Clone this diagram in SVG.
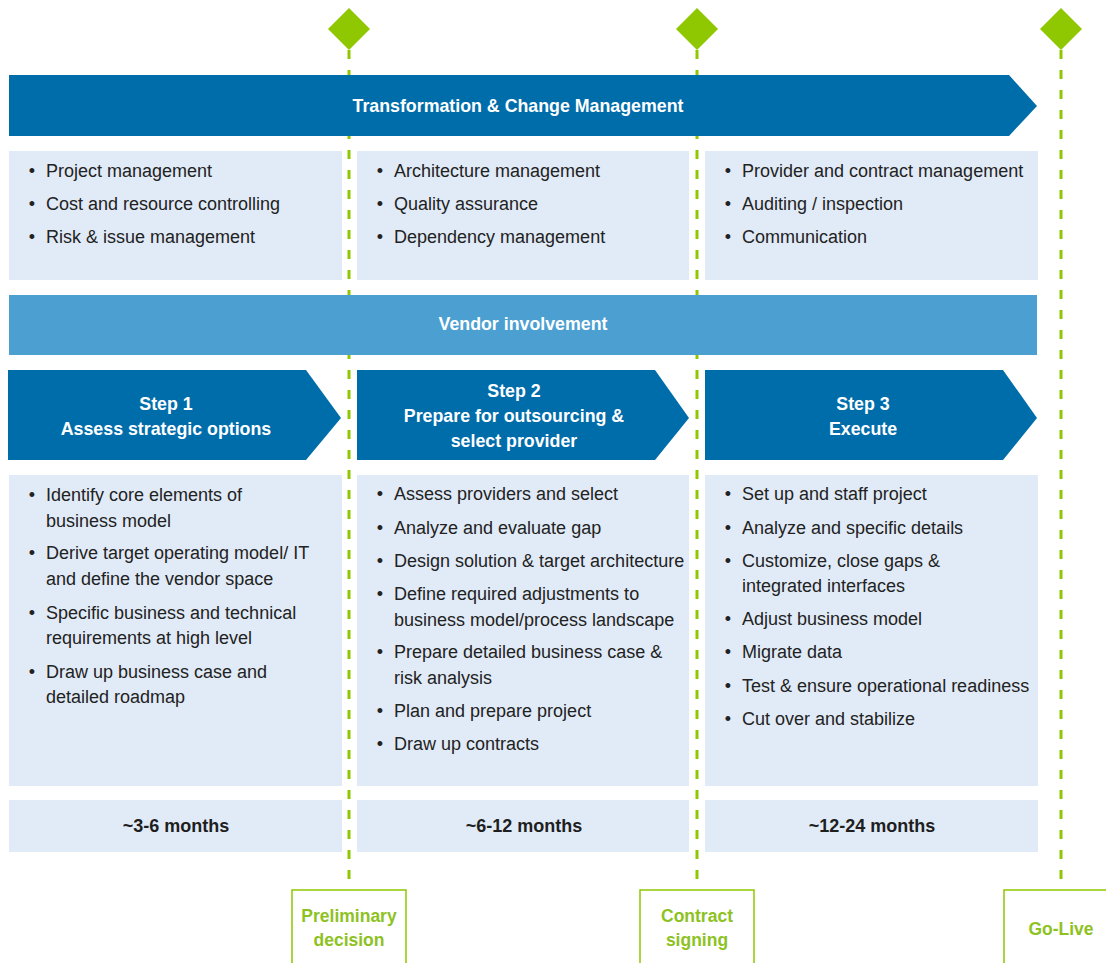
<svg xmlns="http://www.w3.org/2000/svg" width="1106" height="963" viewBox="0 0 1106 963">
<style>
.dark{fill:#006DAB}
.mid{fill:#4C9FD1}
.light{fill:#E1EBF7}
.ms-line{stroke:#8FC800;stroke-width:3;stroke-dasharray:9 11;fill:none}
.diamond{fill:#8FC800}
.mbox{fill:#fff;stroke:#8FC800;stroke-width:1.5}
text{font-family:"Liberation Sans",Arial,sans-serif}
.hd{font-size:17.8px;font-weight:bold;fill:#fff;text-anchor:middle}
.b{font-size:18px;fill:#222}
.bul{font-size:18px;fill:#222;text-anchor:middle}
.mo{font-size:18px;font-weight:bold;fill:#1e1e1e;text-anchor:middle}
.ms{font-size:17.5px;font-weight:bold;fill:#8DC21F;text-anchor:middle}
</style>

<g id="connectors">
<line class="ms-line" x1="349" y1="50" x2="349" y2="890"/>
<line class="ms-line" x1="697" y1="50" x2="697" y2="890"/>
<line class="ms-line" x1="1061" y1="50" x2="1061" y2="890"/>
</g>

<g id="diamonds">
<polygon class="diamond" points="349,8 370,29 349,50 328,29"/>
<polygon class="diamond" points="697,8 718,29 697,50 676,29"/>
<polygon class="diamond" points="1061,8 1082,29 1061,50 1040,29"/>
</g>

<g id="transformation">
<polygon class="dark" points="9,75 1009,75 1037,106 1009,136 9,136"/>
<text class="hd" x="518" y="112">Transformation &amp; Change Management</text>
</g>

<g id="mgmt1">
<rect class="light" x="9" y="151" width="333" height="129"/>
<text class="bul" x="32" y="177">•</text><text class="b" x="46" y="177">Project management</text>
<text class="bul" x="32" y="210">•</text><text class="b" x="46" y="210">Cost and resource controlling</text>
<text class="bul" x="32" y="243">•</text><text class="b" x="46" y="243">Risk &amp; issue management</text>
</g>
<g id="mgmt2">
<rect class="light" x="357" y="151" width="332" height="129"/>
<text class="bul" x="380" y="177">•</text><text class="b" x="394" y="177">Architecture management</text>
<text class="bul" x="380" y="210">•</text><text class="b" x="394" y="210">Quality assurance</text>
<text class="bul" x="380" y="243">•</text><text class="b" x="394" y="243">Dependency management</text>
</g>
<g id="mgmt3">
<rect class="light" x="705" y="151" width="333" height="129"/>
<text class="bul" x="728" y="177">•</text><text class="b" x="742" y="177">Provider and contract management</text>
<text class="bul" x="728" y="210">•</text><text class="b" x="742" y="210">Auditing / inspection</text>
<text class="bul" x="728" y="243">•</text><text class="b" x="742" y="243">Communication</text>
</g>

<g id="vendor">
<rect class="mid" x="9" y="295" width="1028" height="60"/>
<text class="hd" x="523" y="330">Vendor involvement</text>
</g>

<g id="step1">
<polygon class="dark" points="8,370 306,370 341,418 306,460 8,460"/>
<text class="hd" x="166" y="409.5">Step 1</text>
<text class="hd" x="166" y="434.5">Assess strategic options</text>
</g>
<g id="step2">
<polygon class="dark" points="357,370 655,370 689,418 655,460 357,460"/>
<text class="hd" x="514" y="396.5">Step 2</text>
<text class="hd" x="514" y="421.5">Prepare for outsourcing &amp;</text>
<text class="hd" x="514" y="446.5">select provider</text>
</g>
<g id="step3">
<polygon class="dark" points="705,370 1003,370 1037,418 1003,460 705,460"/>
<text class="hd" x="863" y="409.5">Step 3</text>
<text class="hd" x="863" y="434.5">Execute</text>
</g>

<g id="tasks1">
<rect class="light" x="9" y="475" width="333" height="311"/>
<text class="bul" x="32" y="501">•</text><text class="b" x="46" y="501">Identify core elements of</text>
<text class="b" x="46" y="527">business model</text>
<text class="bul" x="32" y="559">•</text><text class="b" x="46" y="559">Derive target operating model/ IT</text>
<text class="b" x="46" y="585">and define the vendor space</text>
<text class="bul" x="32" y="619">•</text><text class="b" x="46" y="619">Specific business and technical</text>
<text class="b" x="46" y="644">requirements at high level</text>
<text class="bul" x="32" y="678">•</text><text class="b" x="46" y="678">Draw up business case and</text>
<text class="b" x="46" y="703">detailed roadmap</text>
</g>
<g id="tasks2">
<rect class="light" x="357" y="475" width="332" height="311"/>
<text class="bul" x="380" y="500">•</text><text class="b" x="394" y="500">Assess providers and select</text>
<text class="bul" x="380" y="534">•</text><text class="b" x="394" y="534">Analyze and evaluate gap</text>
<text class="bul" x="380" y="567">•</text><text class="b" x="394" y="567">Design solution &amp; target architecture</text>
<text class="bul" x="380" y="600">•</text><text class="b" x="394" y="600">Define required adjustments to</text>
<text class="b" x="394" y="626">business model/process landscape</text>
<text class="bul" x="380" y="658">•</text><text class="b" x="394" y="658">Prepare detailed business case &amp;</text>
<text class="b" x="394" y="684">risk analysis</text>
<text class="bul" x="380" y="717">•</text><text class="b" x="394" y="717">Plan and prepare project</text>
<text class="bul" x="380" y="750">•</text><text class="b" x="394" y="750">Draw up contracts</text>
</g>
<g id="tasks3">
<rect class="light" x="705" y="475" width="333" height="311"/>
<text class="bul" x="728" y="500">•</text><text class="b" x="742" y="500">Set up and staff project</text>
<text class="bul" x="728" y="534">•</text><text class="b" x="742" y="534">Analyze and specific details</text>
<text class="bul" x="728" y="567">•</text><text class="b" x="742" y="567">Customize, close gaps &amp;</text>
<text class="b" x="742" y="592">integrated interfaces</text>
<text class="bul" x="728" y="625">•</text><text class="b" x="742" y="625">Adjust business model</text>
<text class="bul" x="728" y="658">•</text><text class="b" x="742" y="658">Migrate data</text>
<text class="bul" x="728" y="692">•</text><text class="b" x="742" y="692">Test &amp; ensure operational readiness</text>
<text class="bul" x="728" y="725">•</text><text class="b" x="742" y="725">Cut over and stabilize</text>
</g>

<g id="duration1">
<rect class="light" x="9" y="800" width="333" height="52"/>
<text class="mo" x="176" y="832">~3-6 months</text>
</g>
<g id="duration2">
<rect class="light" x="357" y="800" width="332" height="52"/>
<text class="mo" x="524" y="832">~6-12 months</text>
</g>
<g id="duration3">
<rect class="light" x="705" y="800" width="333" height="52"/>
<text class="mo" x="872" y="832">~12-24 months</text>
</g>

<g id="milestone-preliminary">
<rect class="mbox" x="292" y="890" width="114" height="80"/>
<text class="ms" x="349" y="922">Preliminary</text>
<text class="ms" x="349" y="946">decision</text>
</g>
<g id="milestone-contract">
<rect class="mbox" x="640" y="890" width="114" height="80"/>
<text class="ms" x="697" y="922">Contract</text>
<text class="ms" x="697" y="946">signing</text>
</g>
<g id="milestone-golive">
<rect class="mbox" x="1004" y="890" width="114" height="80"/>
<text class="ms" x="1061" y="935">Go-Live</text>
</g>
</svg>
